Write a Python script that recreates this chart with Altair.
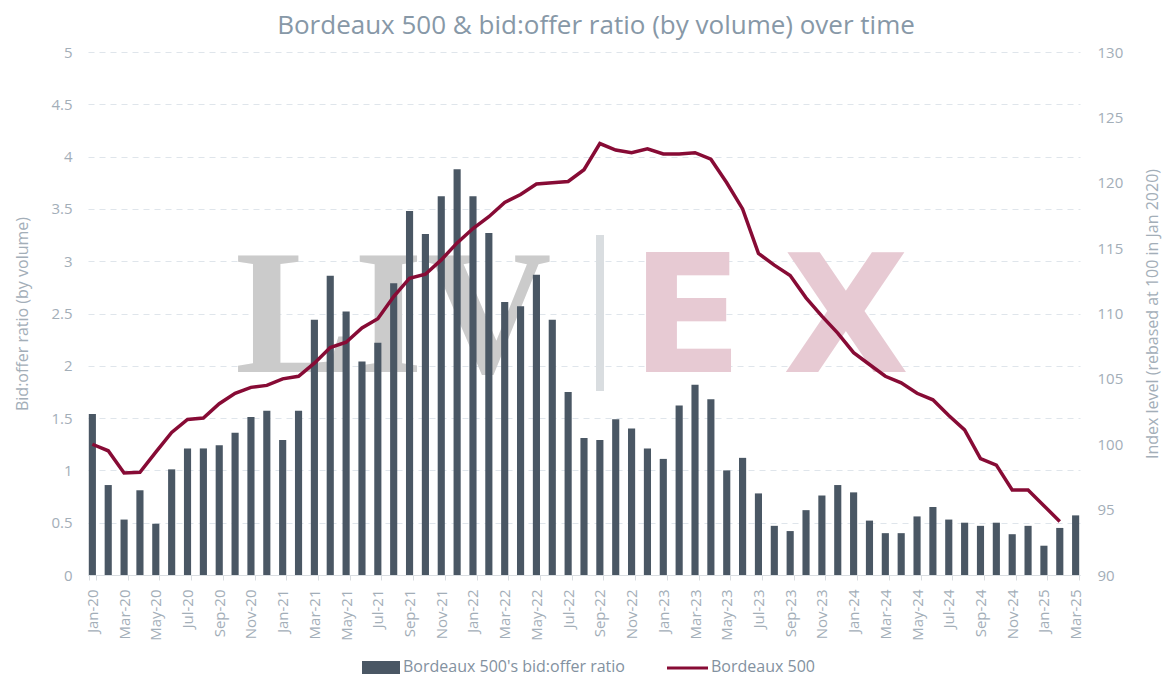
import altair as alt
import pandas as pd

# ---- data ----
years = ["20", "21", "22", "23", "24", "25"]
month_names = ["Jan", "Feb", "Mar", "Apr", "May", "Jun", "Jul", "Aug", "Sep", "Oct", "Nov", "Dec"]
months = [f"{m}-{y}" for y in years for m in month_names][:63]  # Jan-20 .. Mar-25

bid_offer_ratio = [
    1.54, 0.86, 0.53, 0.81, 0.49, 1.01, 1.21, 1.21, 1.24, 1.36, 1.51, 1.57,
    1.29, 1.57, 2.44, 2.86, 2.52, 2.04, 2.22, 2.79, 3.48, 3.26, 3.62, 3.88,
    3.62, 3.27, 2.61, 2.57, 2.87, 2.44, 1.75, 1.31, 1.29, 1.49, 1.40, 1.21,
    1.11, 1.62, 1.82, 1.68, 1.00, 1.12, 0.78, 0.47, 0.42, 0.62, 0.76, 0.86,
    0.79, 0.52, 0.40, 0.40, 0.56, 0.65, 0.53, 0.50, 0.47, 0.50, 0.39, 0.47,
    0.28, 0.45, 0.57,
]

bordeaux_500 = [
    100.0, 99.5, 97.8, 97.85, 99.4, 100.9, 101.9, 102.0, 103.1, 103.9, 104.35, 104.5,
    105.0, 105.2, 106.2, 107.4, 107.8, 108.9, 109.6, 111.3, 112.7, 113.0, 114.1, 115.4,
    116.5, 117.4, 118.5, 119.1, 119.9, 120.0, 120.1, 121.0, 123.0, 122.5, 122.3, 122.6,
    122.2, 122.2, 122.3, 121.8, 120.0, 118.0, 114.6, 113.7, 112.9, 111.2, 109.8, 108.5,
    107.0, 106.1, 105.2, 104.7, 103.9, 103.4, 102.2, 101.1, 98.9, 98.4, 96.5, 96.5,
    95.3, 94.1,
]

ratio_ticks = [0, 0.5, 1, 1.5, 2, 2.5, 3, 3.5, 4, 4.5, 5]
index_ticks = [90, 95, 100, 105, 110, 115, 120, 125, 130]

bars_df = pd.DataFrame({"month": months, "ratio": bid_offer_ratio})
line_df = pd.DataFrame({"month": months[: len(bordeaux_500)], "index": bordeaux_500})

# ---- style ----
FONT = "Open Sans"
BAR_COLOR = "#4a5764"
LINE_COLOR = "#870b35"
LABEL_COLOR = "#a3aeb8"
TITLE_COLOR = "#8798a7"
LEGEND_COLOR = "#8391a0"
GRID_COLOR = "#dfe5eb"

x_scale = alt.Scale(domain=months, paddingInner=0.55, paddingOuter=0.05)

x_axis = alt.Axis(
    values=months[::2],
    labelAngle=270,
    labelFont=FONT,
    labelFontSize=15,
    labelColor=LABEL_COLOR,
    labelPadding=9,
    labelOverlap=False,
    tickBand="extent",
    tickColor="#d9dde1",
    tickSize=5,
    domainColor="#d9dde1",
    title=None,
    grid=False,
)

bars = alt.Chart(bars_df).mark_bar(color=BAR_COLOR).encode(
    x=alt.X("month:N", scale=x_scale, axis=x_axis),
    y=alt.Y(
        "ratio:Q",
        scale=alt.Scale(domain=[0, 5], nice=False),
        axis=alt.Axis(
            values=ratio_ticks,
            format="~g",
            title="Bid:offer ratio (by volume)",
            titleFont=FONT,
            titleFontSize=16,
            titleFontWeight="normal",
            titleColor=LABEL_COLOR,
            titlePadding=20,
            labelFont=FONT,
            labelFontSize=15,
            labelColor=LABEL_COLOR,
            labelPadding=16,
            ticks=False,
            domain=False,
            grid=True,
            gridColor=GRID_COLOR,
            gridDash=[6, 5],
            gridWidth=1,
        ),
    ),
)

line = alt.Chart(line_df).mark_line(color=LINE_COLOR, strokeWidth=3.5).encode(
    x=alt.X("month:N", scale=x_scale, axis=x_axis),
    y=alt.Y(
        "index:Q",
        scale=alt.Scale(domain=[90, 130], nice=False),
        axis=alt.Axis(
            orient="right",
            values=index_ticks,
            title="Index level (rebased at 100 in Jan 2020)",
            titleAngle=270,
            titleFont=FONT,
            titleFontSize=16,
            titleFontWeight="normal",
            titleColor=LABEL_COLOR,
            titlePadding=38,
            labelFont=FONT,
            labelFontSize=15,
            labelColor=LABEL_COLOR,
            labelPadding=17,
            ticks=False,
            domain=False,
            grid=False,
        ),
    ),
)

# ---- watermark (LIV | EX) ----
wm_base = alt.Chart(pd.DataFrame({"k": [0]}))
wm_liv = wm_base.mark_text(
    text="LIV", font="Liberation Serif", fontWeight="bold", fontSize=178,
    color="#cbcbcb", align="left", baseline="alphabetic",
).encode(x=alt.value(147), y=alt.value(320))
wm_pipe = wm_base.mark_rule(color="#d9dde0", strokeWidth=8).encode(
    x=alt.value(512), y=alt.value(183), y2=alt.value(339)
)
wm_e = wm_base.mark_text(
    text="E", font="DejaVu Sans", fontWeight="bold", fontSize=164,
    color="#e7cad3", align="left", baseline="alphabetic",
).encode(x=alt.value(543), y=alt.value(320))
wm_x = wm_base.mark_text(
    text="X", font="DejaVu Sans", fontWeight="bold", fontSize=164,
    color="#e7cad3", align="center", baseline="alphabetic",
).encode(x=alt.value(758), y=alt.value(320))

# ---- legend ----
leg_rect = wm_base.mark_rect(color=BAR_COLOR).encode(
    x=alt.value(274), x2=alt.value(312), y=alt.value(609), y2=alt.value(622)
)
leg_text1 = wm_base.mark_text(
    text="Bordeaux 500's bid:offer ratio", font=FONT, fontSize=16,
    color=LEGEND_COLOR, align="left", baseline="middle",
).encode(x=alt.value(315), y=alt.value(615))
leg_line = wm_base.mark_rule(color=LINE_COLOR, strokeWidth=3).encode(
    x=alt.value(579), x2=alt.value(620), y=alt.value(616)
)
leg_text2 = wm_base.mark_text(
    text="Bordeaux 500", font=FONT, fontSize=16,
    color=LEGEND_COLOR, align="left", baseline="middle",
).encode(x=alt.value(623), y=alt.value(615))

decor = alt.layer(wm_liv, wm_pipe, wm_e, wm_x)

chart = (
    alt.layer(decor, bars, line, leg_rect, leg_text1, leg_line, leg_text2)
    .resolve_scale(y="independent")
    .properties(
        width=992,
        height=523,
        view=alt.ViewBackground(stroke="transparent", strokeWidth=0),
        autosize=alt.AutoSizeParams(type="none"),
        padding={"left": 80, "top": 44, "right": 86, "bottom": 101},
        title=alt.TitleParams(
            text="Bordeaux 500 & bid:offer ratio (by volume) over time",
            font=FONT,
            fontSize=26,
            fontWeight="normal",
            color=TITLE_COLOR,
            anchor="middle",
            dx=12,
            offset=6,
        ),
    )
    .configure_view(strokeWidth=0, stroke="transparent")
    .configure_axisY(domain=False, domainOpacity=0)
    .configure_axisX(gridOpacity=0)
    .configure(background="white")
)

chart.save("out.html", embed_options={"renderer": "svg", "actions": False})
